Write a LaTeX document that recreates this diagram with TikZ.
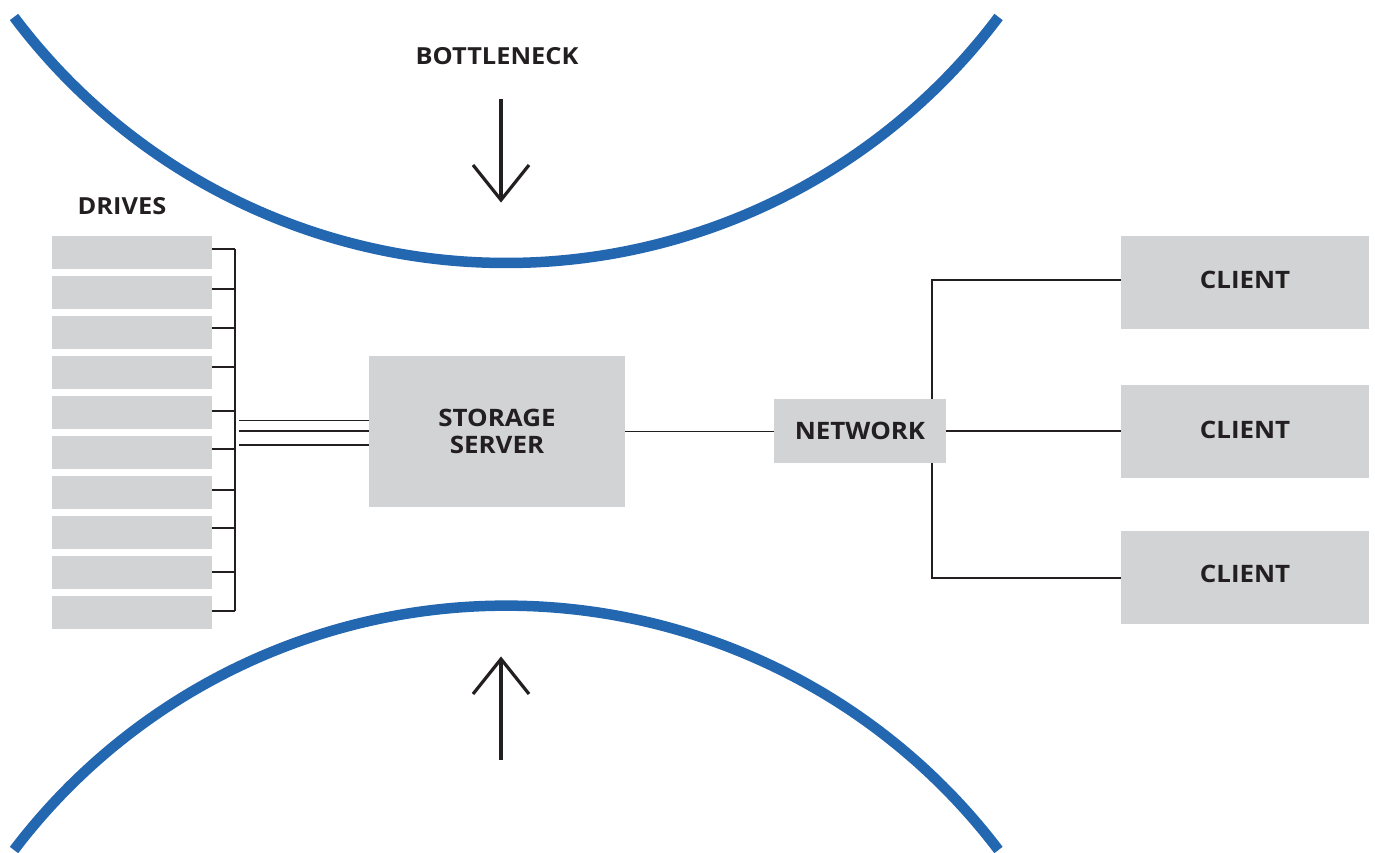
\documentclass[tikz,border=0pt]{standalone}
\usepackage{fontspec}
\setmainfont{Open Sans}[FakeStretch=1.08]
\definecolor{inkdark}{RGB}{35,31,32}
\definecolor{boxgray}{RGB}{209,211,212}
\definecolor{neckblue}{RGB}{36,103,177}
\tikzset{
  graybox/.style={fill=boxgray, draw=none, inner sep=0pt, text=inkdark,
    font=\fontsize{24}{27}\selectfont\bfseries, align=center},
  drivebox/.style={fill=boxgray, draw=none, inner sep=0pt,
    minimum width=160pt, minimum height=33pt},
  caption/.style={text=inkdark, font=\fontsize{23.5}{26}\selectfont\bfseries, inner sep=0pt},
  wire/.style={draw=inkdark, line width=1.1pt},
  neck/.style={draw=neckblue, line width=10.5pt},
  squeeze/.style={draw=inkdark, line width=3.2pt, miter limit=10}
}
\begin{document}
\begin{tikzpicture}[x=1pt, y=-1pt]
  \useasboundingbox (0,0) rectangle (1375,853);

  % the narrowing walls
  \draw[neck] (14,17) arc[start angle=216.9, end angle=323.1, radius=615.6pt];
  \draw[neck] (14,850) arc[start angle=142.8, end angle=37.2, radius=618pt];

  % squeeze arrows
  \draw[squeeze] (501,99) -- (501,200);
  \draw[squeeze] (473,165) -- (501,200) -- (529,165);
  \draw[squeeze] (501,760) -- (501,659);
  \draw[squeeze] (473,694) -- (501,659) -- (529,694);

  \node[caption] (neck) at (497,56) {BOTTLENECK};
  \node[caption] (drvlabel) at (122,206) {DRIVES};

  % drive array
  \foreach \k in {0,...,9}
    \node[drivebox] (d\k) at (132,{252.5+40*\k}) {};

  \coordinate (bustop) at (235,249);
  \coordinate (busbot) at (235,611);
  \foreach \k/\yy in {0/249,1/289,2/328,3/367,4/411,5/449,6/490,7/528,8/572,9/611}
    \draw[wire] (d\k.east |- 0,\yy) -- (bustop |- 0,\yy);
  \draw[wire] (bustop) -- (busbot);

  % storage server and network
  \node[graybox, minimum width=256pt, minimum height=151pt] (server) at (497,431.5)
    {STORAGE\\SERVER};
  \node[graybox, minimum width=172pt, minimum height=64pt] (net) at (860,431) {NETWORK};

  \coordinate (b1) at (239,420);
  \coordinate (b2) at (239,431);
  \coordinate (b3) at (239,445);
  \draw[draw=inkdark, line width=1pt] (b1) -- (b1 -| server.west);
  \draw[draw=inkdark, line width=1.6pt] (b2) -- (b2 -| server.west);
  \draw[draw=inkdark, line width=2.3pt] (b3) -- (b3 -| server.west);

  % clients
  \node[graybox, minimum width=248pt, minimum height=93pt, text depth=6pt] (c1) at (1245,282.5) {CLIENT};
  \node[graybox, minimum width=248pt, minimum height=93pt, text depth=4pt] (c2) at (1245,431.5) {CLIENT};
  \node[graybox, minimum width=248pt, minimum height=93pt, text depth=8pt] (c3) at (1245,577.5) {CLIENT};

  \coordinate (split) at (932,431);
  \draw[wire] (server.east) -- (server.east -| net.west);
  \draw[wire] (net.east) -- (net.east -| c2.west);
  \draw[wire] (split |- net.north) -- (split |- 0,280) -- (c1.west |- 0,280);
  \draw[wire] (split |- net.south) -- (split |- 0,578) -- (c3.west |- 0,578);
\end{tikzpicture}
\end{document}
